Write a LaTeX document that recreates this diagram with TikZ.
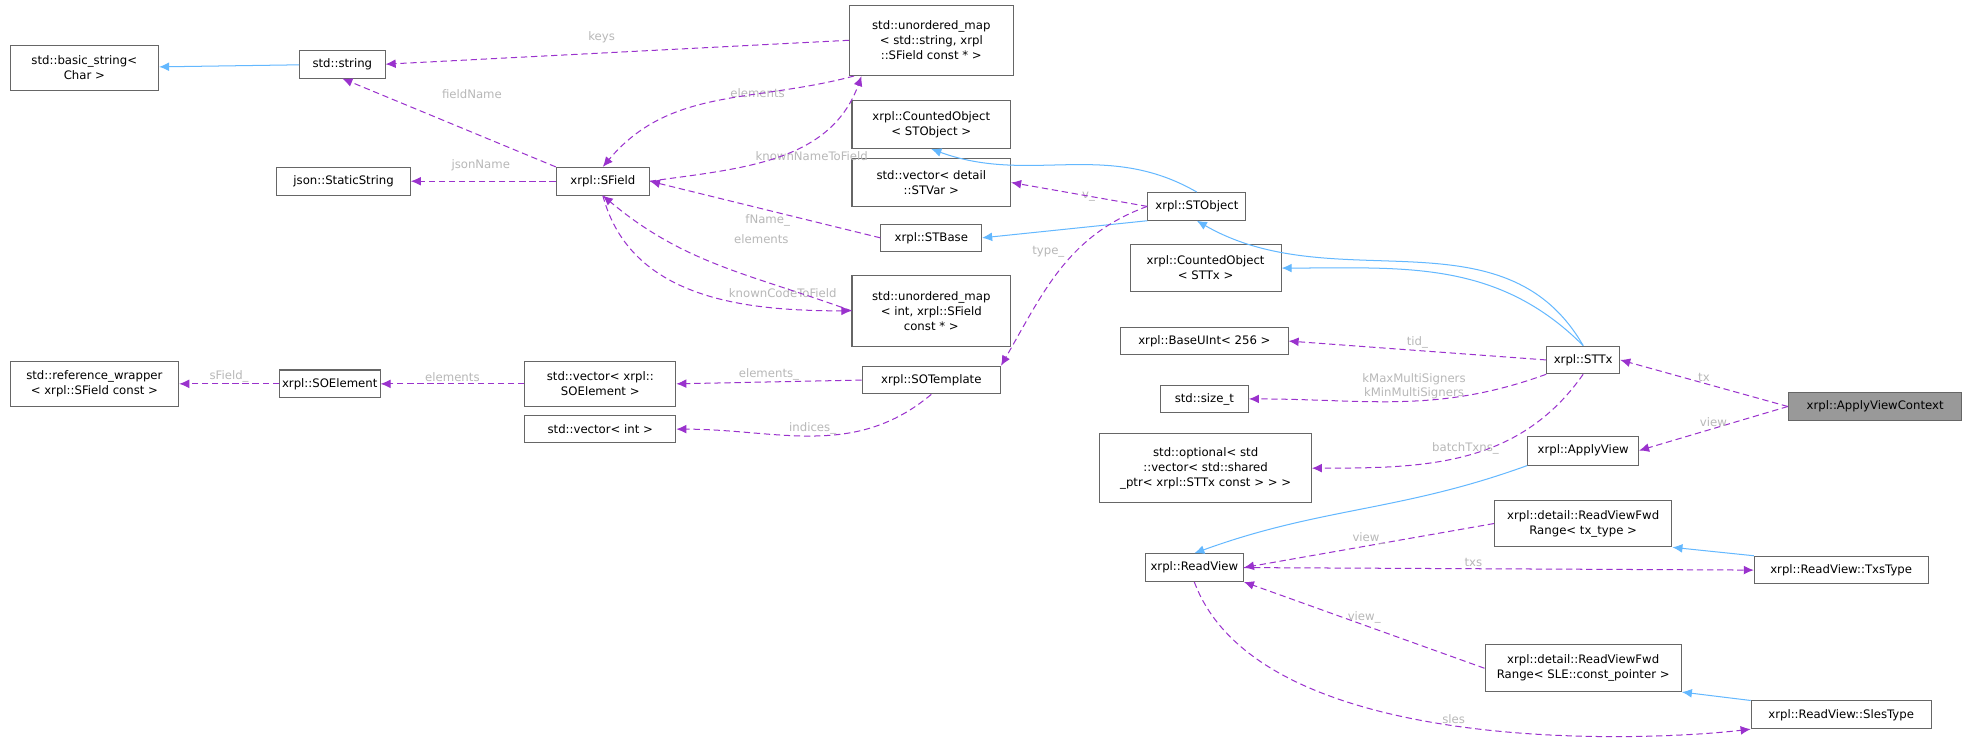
\documentclass[tikz,border=0pt]{standalone}
\usepackage{fontspec}
\setmainfont{DejaVu Sans}
\usetikzlibrary{arrows.meta}
\definecolor{pur}{HTML}{9A32CD}
\definecolor{blu}{HTML}{63B8FF}
\definecolor{lab}{HTML}{B8B8B8}
\definecolor{bd}{HTML}{666666}
\begin{document}
\begin{tikzpicture}[x=1pt,y=-1pt,
  n/.style={draw=bd,line width=0.8pt,fill=white,align=center,inner sep=2pt,font=\fontsize{9.3}{12}\selectfont},
  u/.style={pur,dashed,line width=0.8pt,dash pattern=on 5pt off 3pt,-{Latex[length=8pt,width=7pt]}},
  b/.style={blu,line width=0.8pt,-{Latex[length=8pt,width=7pt]}},
  l/.style={lab,font=\fontsize{9.3}{11}\selectfont,align=center,inner sep=1pt}]
\fill[white] (0,0) rectangle (1563,590);
\useasboundingbox (0,0) rectangle (1563,590);
\node[n,minimum width=118,minimum height=36] (bs) at (67,54) {std::basic\_string<\\Char >};
\node[n,minimum width=68,minimum height=22] (str) at (272,51) {std::string};
\node[n,minimum width=130,minimum height=56] (um1) at (740,32) {std::unordered\_map\\< std::string, xrpl\\::SField const * >};
\node[n,minimum width=126,minimum height=38] (co1) at (740,99) {xrpl::CountedObject\\< STObject >};
\node[n,minimum width=106,minimum height=22] (js) at (273,144) {json::StaticString};
\node[n,minimum width=74,minimum height=22] (sf) at (479,144) {xrpl::SField};
\node[n,minimum width=126,minimum height=38] (vst) at (740,145) {std::vector< detail\\::STVar >};
\node[n,minimum width=78,minimum height=22] (sto) at (951,164) {xrpl::STObject};
\node[n,minimum width=80,minimum height=22] (stb) at (740,189) {xrpl::STBase};
\node[n,minimum width=120,minimum height=38] (co2) at (958,213) {xrpl::CountedObject\\< STTx >};
\node[n,minimum width=126,minimum height=56] (um2) at (740,247) {std::unordered\_map\\< int, xrpl::SField\\const * >};
\node[n,minimum width=133,minimum height=22] (bu) at (957,271) {xrpl::BaseUInt< 256 >};
\node[n,minimum width=134,minimum height=36] (rw) at (75,305) {std::reference\_wrapper\\< xrpl::SField const >};
\node[n,minimum width=80,minimum height=22] (soe) at (262,305) {xrpl::SOElement};
\node[n,minimum width=120,minimum height=36] (vso) at (477,305) {std::vector< xrpl::\\SOElement >};
\node[n,minimum width=110,minimum height=22] (sot) at (740,302) {xrpl::SOTemplate};
\node[n,minimum width=58,minimum height=22] (tx) at (1258,286) {xrpl::STTx};
\node[n,minimum width=70,minimum height=22] (sz) at (957,317) {std::size\_t};
\node[n,fill=gray!80,minimum width=138,minimum height=23] (avc) at (1490,323) {xrpl::ApplyViewContext};
\node[n,minimum width=120,minimum height=22] (vi) at (477,341) {std::vector< int >};
\node[n,minimum width=168,minimum height=55] (opt) at (958,372) {std::optional< std\\::vector< std::shared\\\_ptr< xrpl::STTx const > > >};
\node[n,minimum width=88,minimum height=23] (av) at (1258,358) {xrpl::ApplyView};
\node[n,minimum width=141,minimum height=37] (f1) at (1258,416) {xrpl::detail::ReadViewFwd\\Range< tx\_type >};
\node[n,minimum width=78,minimum height=22] (rv) at (949,451) {xrpl::ReadView};
\node[n,minimum width=138,minimum height=22] (tt) at (1463,453) {xrpl::ReadView::TxsType};
\node[n,minimum width=156,minimum height=37] (f2) at (1258,531) {xrpl::detail::ReadViewFwd\\Range< SLE::const\_pointer >};
\node[n,minimum width=143,minimum height=22] (st) at (1463,568) {xrpl::ReadView::SlesType};
\coordinate (um1a) at ([xshift=4]um1.south west);
\coordinate (um1b) at ([xshift=10]um1.south west);
% labels
\node[l] (lkeys) at (478,30) {keys};
\node[l] (lfn) at (375,75) {fieldName};
\node[l] (lel1) at (602,74) {elements};
\node[l] (lkn) at (645,124) {knownNameToField};
\node[l] (ljs) at (382,131) {jsonName};
\node[l] (lfname) at (610,175) {fName\_};
\node[l] (lel2) at (605,190) {elements};
\node[l] (lkc) at (622,233) {knownCodeToField};
\node[l] (lv) at (865,156) {v\_};
\node[l] (lty) at (833,200) {type\_};
% inheritance
\draw[b] (str) -- (bs);
\draw[b] (sto.north) to[out=150,in=-20] (co1.south);
\draw[b] (sto.south west) -- (stb.east);
\draw[b] (tx.north) to[out=120,in=-30] (sto.south);
\draw[b] (tx.north) to[out=135,in=0] (co2.east);
\draw[b] (av.south west) to[out=200,in=20] (rv.north);
\draw[b] (tt.north west) -- (f1.south east);
\draw[b] (st.north west) -- (f2.south east);
% usage
\draw[u] (um1.west) -- (str.east);
\draw[u] (sf.north west) -- (str.south);
\draw[u] (sf.east) to[out=8,in=-110] (um1b);
\draw[u] (um1a) to[out=195,in=50] (sf.north);
\draw[u] (sf.west) -- (js.east);
\draw[u] (stb.west) -- (sf.east);
\draw[u] (um2.west) to[out=160,in=-40] (sf.south);
\draw[u] (sf.south) to[out=-75,in=180] (um2.west);
\draw[u] (sto.west) -- (vst.east);
\draw[u] (sto.west) to[out=200,in=60] (sot.north east);
\draw[u] (soe.west) -- node[l,above]{sField\_} (rw.east);
\draw[u] (vso.west) -- node[l,above]{elements} (soe.east);
\draw[u] (sot.west) -- node[l,above]{elements\_} (vso.east);
\draw[u] (sot.south) to[out=220,in=0] node[l,above,pos=0.5]{indices\_} (vi.east);
\draw[u] (tx.west) -- node[l,above]{tid\_} (bu.east);
\draw[u] (tx.south west) to[out=200,in=0] node[l,above,pos=0.45]{kMaxMultiSigners\\kMinMultiSigners} (sz.east);
\draw[u] (tx.south) to[out=235,in=0] node[l,above,pos=0.5]{batchTxns\_} (opt.east);
\draw[u] (avc.west) -- node[l,above]{tx} (tx.east);
\draw[u] (avc.west) -- node[l,above]{view} (av.east);
\draw[u] (f1.west) -- node[l,above]{view\_} (rv.east);
\draw[u] (rv.east) -- node[l,above,pos=0.45]{txs} (tt.west);
\draw[u] (f2.west) -- node[l,above]{view\_} (rv.south east);
\draw[u] (rv.south) .. controls (1000,600) and (1300,590) .. node[l,above,pos=0.5]{sles} (st.south west);
\end{tikzpicture}
\end{document}
